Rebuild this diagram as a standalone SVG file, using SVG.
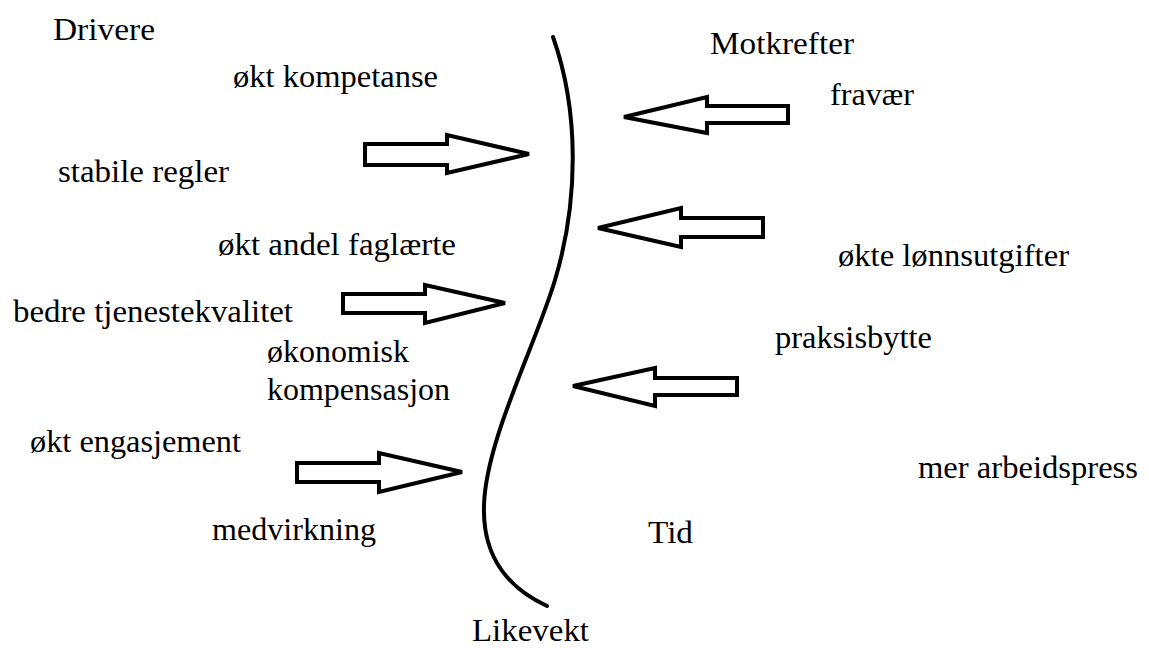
<svg xmlns="http://www.w3.org/2000/svg" width="1149" height="648" viewBox="0 0 1149 648">
<style>
text{font-family:"Liberation Serif","Times New Roman",serif;font-size:31.5px;fill:#000}
.arr{fill:#fff;stroke:#000;stroke-width:4;stroke-linejoin:miter}
.curve{fill:none;stroke:#000;stroke-width:4;stroke-linecap:round}
</style>
<rect width="1149" height="648" fill="#fff"/>
<g id="labels">
<text x="53" y="40" textLength="102" lengthAdjust="spacingAndGlyphs">Drivere</text>
<text x="233" y="87" textLength="205" lengthAdjust="spacingAndGlyphs">økt kompetanse</text>
<text x="58" y="182" textLength="171" lengthAdjust="spacingAndGlyphs">stabile regler</text>
<text x="218" y="255" textLength="238" lengthAdjust="spacingAndGlyphs">økt andel faglærte</text>
<text x="13" y="322" textLength="280" lengthAdjust="spacingAndGlyphs">bedre tjenestekvalitet</text>
<text x="267" y="362" textLength="142" lengthAdjust="spacingAndGlyphs">økonomisk</text>
<text x="267" y="400" textLength="183" lengthAdjust="spacingAndGlyphs">kompensasjon</text>
<text x="30" y="452" textLength="211" lengthAdjust="spacingAndGlyphs">økt engasjement</text>
<text x="212" y="540" textLength="164" lengthAdjust="spacingAndGlyphs">medvirkning</text>
<text x="710" y="54" textLength="144" lengthAdjust="spacingAndGlyphs">Motkrefter</text>
<text x="830" y="105" textLength="84" lengthAdjust="spacingAndGlyphs">fravær</text>
<text x="838" y="266" textLength="231" lengthAdjust="spacingAndGlyphs">økte lønnsutgifter</text>
<text x="775" y="348" textLength="157" lengthAdjust="spacingAndGlyphs">praksisbytte</text>
<text x="918" y="478" textLength="220" lengthAdjust="spacingAndGlyphs">mer arbeidspress</text>
<text x="648" y="543" textLength="45" lengthAdjust="spacingAndGlyphs">Tid</text>
<text x="472" y="641" textLength="117" lengthAdjust="spacingAndGlyphs">Likevekt</text>
</g>
<g id="likevekt-curve">
<path class="curve" d="M553,37 C579,110 579,200 555,280 C536,344 486,440 484,505 C482,560 512,590 547,606"/>
</g>
<g id="connectors">
<polygon class="arr" points="365,144 447,144 447,135 529,154 447,173 447,165 365,165"/>
<polygon class="arr" points="343,294 425,294 425,285 505,303 425,323 425,313 343,313"/>
<polygon class="arr" points="297,463 379,463 379,453 462,472 379,492 379,482 297,482"/>
<polygon class="arr" points="788,106 707,106 707,97 624,117 707,133 707,123 788,123"/>
<polygon class="arr" points="763,218 681,218 681,208 598,228 681,247 681,237 763,237"/>
<polygon class="arr" points="737,378 655,378 655,368 573,386 655,406 655,395 737,395"/>
</g>
</svg>
